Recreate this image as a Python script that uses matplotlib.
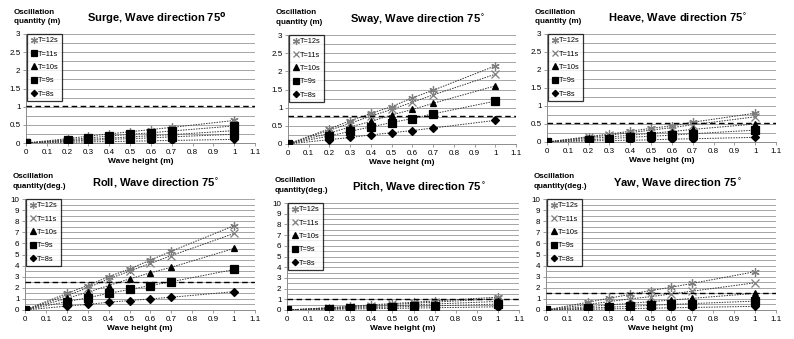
import numpy as np
import matplotlib.pyplot as plt
from matplotlib.ticker import MultipleLocator, FuncFormatter

plt.rcParams['font.family'] = ['Liberation Sans', 'DejaVu Sans']

# wave heights (m)
heights = [0, 0.2, 0.3, 0.4, 0.5, 0.6, 0.7, 1.0]
periods = ['T=12s', 'T=11s', 'T=10s', 'T=9s', 'T=8s']

surge = [
    [0, 0.12, 0.19, 0.25, 0.31, 0.37, 0.43, 0.62],
    [0, 0.09, 0.14, 0.19, 0.24, 0.28, 0.33, 0.47],
    [0, 0.07, 0.10, 0.13, 0.17, 0.20, 0.23, 0.34],
    [0, 0.05, 0.07, 0.10, 0.12, 0.14, 0.17, 0.24],
    [0, 0.02, 0.03, 0.04, 0.05, 0.06, 0.07, 0.10],
]
sway = [
    [0, 0.42, 0.64, 0.84, 1.03, 1.27, 1.48, 2.15],
    [0, 0.38, 0.57, 0.77, 0.95, 1.15, 1.35, 1.92],
    [0, 0.30, 0.47, 0.62, 0.80, 0.95, 1.12, 1.60],
    [0, 0.22, 0.35, 0.47, 0.59, 0.70, 0.83, 1.18],
    [0, 0.12, 0.18, 0.25, 0.31, 0.37, 0.44, 0.65],
]
heave = [
    [0, 0.15, 0.22, 0.30, 0.38, 0.45, 0.55, 0.80],
    [0, 0.13, 0.19, 0.26, 0.33, 0.40, 0.48, 0.70],
    [0, 0.10, 0.14, 0.19, 0.24, 0.29, 0.35, 0.50],
    [0, 0.06, 0.09, 0.13, 0.16, 0.19, 0.23, 0.33],
    [0, 0.03, 0.04, 0.05, 0.06, 0.08, 0.09, 0.13],
]
roll = [
    [0, 1.50, 2.20, 3.00, 3.70, 4.50, 5.30, 7.60],
    [0, 1.30, 2.00, 2.80, 3.50, 4.20, 4.90, 6.90],
    [0, 1.05, 1.60, 2.20, 2.80, 3.35, 3.85, 5.55],
    [0, 0.75, 1.10, 1.50, 1.85, 2.20, 2.55, 3.65],
    [0, 0.35, 0.50, 0.70, 0.85, 1.00, 1.15, 1.65],
]
pitch = [
    [0, 0.22, 0.35, 0.48, 0.60, 0.72, 0.85, 1.20],
    [0, 0.20, 0.31, 0.42, 0.52, 0.63, 0.74, 1.05],
    [0, 0.16, 0.24, 0.32, 0.40, 0.48, 0.56, 0.80],
    [0, 0.11, 0.17, 0.22, 0.28, 0.33, 0.39, 0.55],
    [0, 0.06, 0.09, 0.12, 0.15, 0.18, 0.21, 0.30],
]
yaw = [
    [0, 0.70, 1.05, 1.40, 1.75, 2.05, 2.40, 3.45],
    [0, 0.50, 0.75, 1.00, 1.20, 1.45, 1.70, 2.45],
    [0, 0.30, 0.45, 0.60, 0.75, 0.90, 1.05, 1.50],
    [0, 0.17, 0.25, 0.33, 0.42, 0.50, 0.58, 0.80],
    [0, 0.06, 0.10, 0.13, 0.16, 0.20, 0.23, 0.33],
]

titles = ['Surge, Wave direction 75$^{\\mathbf{o}}$', 'Sway, Wave direction 75$^{\\circ}$',
          'Heave, Wave direction 75$^{\\circ}$', 'Roll, Wave direction 75$^{\\circ}$',
          'Pitch, Wave direction 75$^{\\circ}$', 'Yaw, Wave direction 75$^{\\circ}$']
dashed = [1.03, 0.77, 0.52, 2.55, 1.05, 1.55]
panels = [surge, sway, heave, roll, pitch, yaw]

# axes boxes in pixels: x0, x1, ytop, ybottom
boxes = [(26, 255, 34, 143), (288, 516, 35, 144), (547, 776, 34, 142),
         (25, 255, 199, 310), (287, 519, 203, 310), (546, 776, 199, 310)]

W, H = 794, 339
fig = plt.figure(figsize=(W / 100, H / 100), dpi=100)

asterisk = (6, 2, 0)
for i, data in enumerate(panels):
    x0, x1, yt, yb = boxes[i]
    ax = fig.add_axes([x0 / W, 1 - yb / H, (x1 - x0) / W, (yb - yt) / H])
    top = [3, 3, 3, 10, 10, 10][i]
    markers = [asterisk, 'x', '^', 's', 'D']
    colors = ['#7f7f7f', '#7f7f7f', 'black', 'black', 'black']
    sizes = [6, 5.5, 5, 5.5, 3.8]
    if i == 0:
        markers[1] = 's'
        colors[1] = 'black'
    handles = []
    for k, series in enumerate(data):
        ax.plot(heights, series, ls=(0, (1.5, 1.2)), lw=0.7, color='#333333', zorder=2)
        h, = ax.plot(heights, series, ls='none', marker=markers[k], ms=sizes[k],
                     color=colors[k], mec=colors[k], mew=0.9, zorder=3, label=periods[k])
        handles.append(h)
    ax.axhline(dashed[i], color='black', ls=(0, (4, 2.5)), lw=1.0, zorder=4)
    ax.set_xlim(0, 1.1)
    ax.set_ylim(0, top)
    if top == 3:
        ax.yaxis.set_major_locator(MultipleLocator(0.5))
        ax.yaxis.set_minor_locator(MultipleLocator(0.25))
    else:
        ax.yaxis.set_major_locator(MultipleLocator(1))
        ax.yaxis.set_minor_locator(MultipleLocator(0.5))
    ax.yaxis.set_major_formatter(FuncFormatter(lambda v, p: '%g' % v))
    ax.set_xticks(np.round(np.arange(0, 1.11, 0.1), 1))
    ax.set_xticklabels(['0', '0.1', '0.2', '0.3', '0.4', '0.5', '0.6', '0.7', '0.8', '0.9', '1', '1.1'])
    ax.grid(True, which='both', axis='y', color='#969696', lw=0.6)
    ax.set_axisbelow(True)
    for s in ['top', 'right']:
        ax.spines[s].set_visible(False)
    for s in ['left', 'bottom']:
        ax.spines[s].set_color('#8c8c8c')
        ax.spines[s].set_linewidth(0.7)
    ax.tick_params(labelsize=5.8, length=2, width=0.6, color='#8c8c8c', pad=2)
    ax.tick_params(which='minor', length=0)
    ax.set_xlabel('Wave height (m)', fontsize=6, fontweight='bold', labelpad=2)
    ax.set_title(titles[i], fontsize=8, fontweight='bold', pad=9, x=0.57)
    leg = ax.legend(handles=handles, loc='upper left', bbox_to_anchor=(0.005, 1.0),
                    fontsize=5.3, frameon=True, fancybox=False, labelspacing=0.85,
                    handlelength=1.0, handletextpad=0.05, borderpad=0.4,
                    borderaxespad=0, markerscale=0.85)
    leg.get_frame().set_edgecolor('black')
    leg.get_frame().set_linewidth(0.9)
    ylab = 'Oscillation\nquantity (m)' if top == 3 else 'Oscillation\nquantity(deg.)'
    fig.text((x0 - 12) / W, 1 - (yt - 9) / H, ylab, fontsize=5.8, fontweight='bold',
             ha='left', va='bottom', linespacing=1.5)

fig.savefig('out.png', dpi=100)
